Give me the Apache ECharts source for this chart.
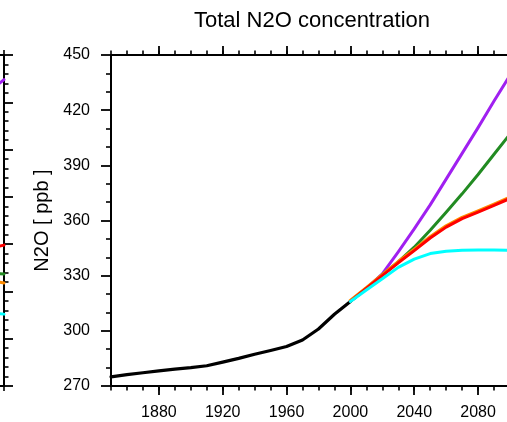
<!DOCTYPE html>
<html>
<head>
<meta charset="utf-8">
<script src="https://cdn.jsdelivr.net/npm/echarts@6/dist/echarts.min.js"></script>
<style>
  html, body { margin: 0; padding: 0; background: #ffffff; }
  #chart { width: 507px; height: 422px; }
</style>
</head>
<body>
<div id="chart"></div>
<script>
// ---- Total N2O concentration (ppb) ----
const histYears = [1850, 1860, 1870, 1880, 1890, 1900, 1910, 1920, 1930, 1940, 1950, 1960, 1970, 1980, 1990, 2000];
const histValues = [275, 276.2, 277.2, 278.2, 279.2, 280, 281, 283, 285, 287.3, 289.3, 291.5, 295, 301, 309, 316];

const futureYears = [2000, 2010, 2020, 2030, 2040, 2050, 2060, 2070, 2080, 2090, 2100];
const purpleValues = [316, 323, 331, 343, 355.5, 368.5, 382.5, 396.5, 410.5, 425, 439];
const greenValues  = [316, 323, 330.5, 337.5, 345.5, 354.7, 364.5, 374.5, 385, 396, 407];
const orangeValues = [316.4, 323.4, 330.5, 337.6, 344.2, 351.1, 357, 361.6, 365.1, 368.8, 372.6];
const redValues    = [316, 323, 330, 337, 343.6, 350.5, 356.4, 361, 364.5, 368.2, 372];
const cyanValues   = [316, 322.2, 328.3, 334.5, 339, 342, 343.3, 343.8, 344, 344, 343.8];

const xLabelYears = [1880, 1920, 1960, 2000, 2040, 2080];
const yTicks = { min: 270, max: 450, step: 30 };

// ---- Neighbouring panel: only its right-hand edge lies inside the page ----
const sideYears  = [2080, 2090, 2100];
const sidePurple = [3950, 4100, 4240];
const sideRed    = [2400, 2450, 2490];
const sideGreen  = [2200, 2195, 2185];
const sideOrange = [2150, 2120, 2090];
const sideCyan   = [1800, 1780, 1760];
const sideTicks  = { min: 1000, max: 4500, step: 500 };

const FONT = "'Liberation Sans', Arial, Helvetica, sans-serif";
const INK = '#000000';

const pairs = (xs, ys) => xs.map((x, i) => [x, ys[i]]);

function line(name, xs, ys, color, width, gridNo) {
  return {
    name, type: 'line', data: pairs(xs, ys),
    xAxisIndex: gridNo === 1 ? 4 : 0, yAxisIndex: gridNo === 1 ? 1 : 0,
    showSymbol: false, symbol: 'none', smooth: false,
    lineStyle: { color, width, cap: 'round', join: 'round' },
    emphasis: { disabled: true }, silent: true
  };
}

const axisLine = { show: true, onZero: false, lineStyle: { color: INK, width: 2 } };

function xAxisBase(gridIndex, position) {
  return {
    type: 'value', gridIndex, position, min: 1850, max: 2100,
    splitLine: { show: false }, axisLine: { show: false }
  };
}

const chart = echarts.init(document.getElementById('chart'), null, { renderer: 'canvas' });

chart.setOption({
  animation: false,
  backgroundColor: '#ffffff',
  title: {
    text: 'Total N2O concentration',
    left: 312, top: 10, textAlign: 'center', padding: 0,
    textStyle: { fontFamily: FONT, fontSize: 22, fontWeight: 'normal', color: INK }
  },
  grid: [
    { left: 111, right: -3, top: 55, bottom: 36, outerBoundsMode: 'none', containLabel: false },
    { left: -396, right: 503, top: 55, bottom: 36, outerBoundsMode: 'none', containLabel: false }
  ],
  xAxis: [
    // 0: bottom axis of main panel with minor ticks every 10 years and labels
    Object.assign(xAxisBase(0, 'bottom'), {
      interval: 10,
      axisLine: axisLine,
      axisTick: { show: true, inside: false, length: 4.5, lineStyle: { color: INK, width: 1.6 } },
      axisLabel: {
        show: true, margin: 19, customValues: xLabelYears,
        fontFamily: FONT, fontSize: 16, color: INK,
        formatter: v => String(v)
      }
    }),
    // 1: major ticks on the bottom axis
    Object.assign(xAxisBase(0, 'bottom'), {
      axisTick: { show: true, inside: false, length: 9, customValues: xLabelYears, lineStyle: { color: INK, width: 1.8 } },
      axisLabel: { show: false }
    }),
    // 2: top axis of main panel (minor ticks)
    Object.assign(xAxisBase(0, 'top'), {
      interval: 10,
      axisLine: axisLine,
      axisTick: { show: true, inside: false, length: 4.5, lineStyle: { color: INK, width: 1.6 } },
      axisLabel: { show: false }
    }),
    // 3: top axis major ticks
    Object.assign(xAxisBase(0, 'top'), {
      axisTick: { show: true, inside: false, length: 9, customValues: xLabelYears, lineStyle: { color: INK, width: 1.8 } },
      axisLabel: { show: false }
    }),
    // 4: neighbouring panel bottom axis
    Object.assign(xAxisBase(1, 'bottom'), {
      interval: 10,
      axisLine: axisLine,
      axisTick: { show: true, inside: false, length: 5, lineStyle: { color: INK, width: 1.6 } },
      axisLabel: { show: false }
    }),
    // 5: neighbouring panel top axis
    Object.assign(xAxisBase(1, 'top'), {
      interval: 10,
      axisLine: axisLine,
      axisTick: { show: true, inside: false, length: 5, lineStyle: { color: INK, width: 1.6 } },
      axisLabel: { show: false }
    })
  ],
  yAxis: [
    {
      type: 'value', gridIndex: 0, position: 'left',
      min: yTicks.min, max: yTicks.max, interval: yTicks.step,
      name: 'N2O [ ppb ]', nameLocation: 'middle', nameGap: 58,
      nameTextStyle: { fontFamily: FONT, fontSize: 20, color: INK },
      axisLine: axisLine,
      axisTick: { show: true, inside: false, length: 10, lineStyle: { color: INK, width: 1.8 } },
      minorTick: { show: true, splitNumber: 3, length: 5, lineStyle: { color: INK, width: 1.6 } },
      axisLabel: { show: true, margin: 21, fontFamily: FONT, fontSize: 16, color: INK },
      splitLine: { show: false }, minorSplitLine: { show: false }
    },
    {
      type: 'value', gridIndex: 1, position: 'right',
      min: sideTicks.min, max: sideTicks.max, interval: sideTicks.step,
      axisLine: axisLine,
      axisTick: { show: true, inside: false, length: 9, lineStyle: { color: INK, width: 1.8 } },
      minorTick: { show: true, splitNumber: 5, length: 4.5, lineStyle: { color: INK, width: 1.6 } },
      axisLabel: { show: false },
      splitLine: { show: false }, minorSplitLine: { show: false }
    }
  ],
  series: [
    line('historical', histYears, histValues, '#000000', 3.2, 0),
    line('purple', futureYears, purpleValues, '#a020f0', 3, 0),
    line('green', futureYears, greenValues, '#228b22', 3, 0),
    line('orange', futureYears, orangeValues, '#ff8c00', 3.4, 0),
    line('red', futureYears, redValues, '#ff0000', 3, 0),
    line('cyan', futureYears, cyanValues, '#00ffff', 3, 0),
    line('side purple', sideYears, sidePurple, '#a020f0', 3, 1),
    line('side orange', sideYears, sideOrange, '#ff8c00', 3, 1),
    line('side red', sideYears, sideRed, '#ff0000', 3, 1),
    line('side green', sideYears, sideGreen, '#228b22', 3, 1),
    line('side cyan', sideYears, sideCyan, '#00ffff', 3, 1)
  ]
});
</script>
</body>
</html>
